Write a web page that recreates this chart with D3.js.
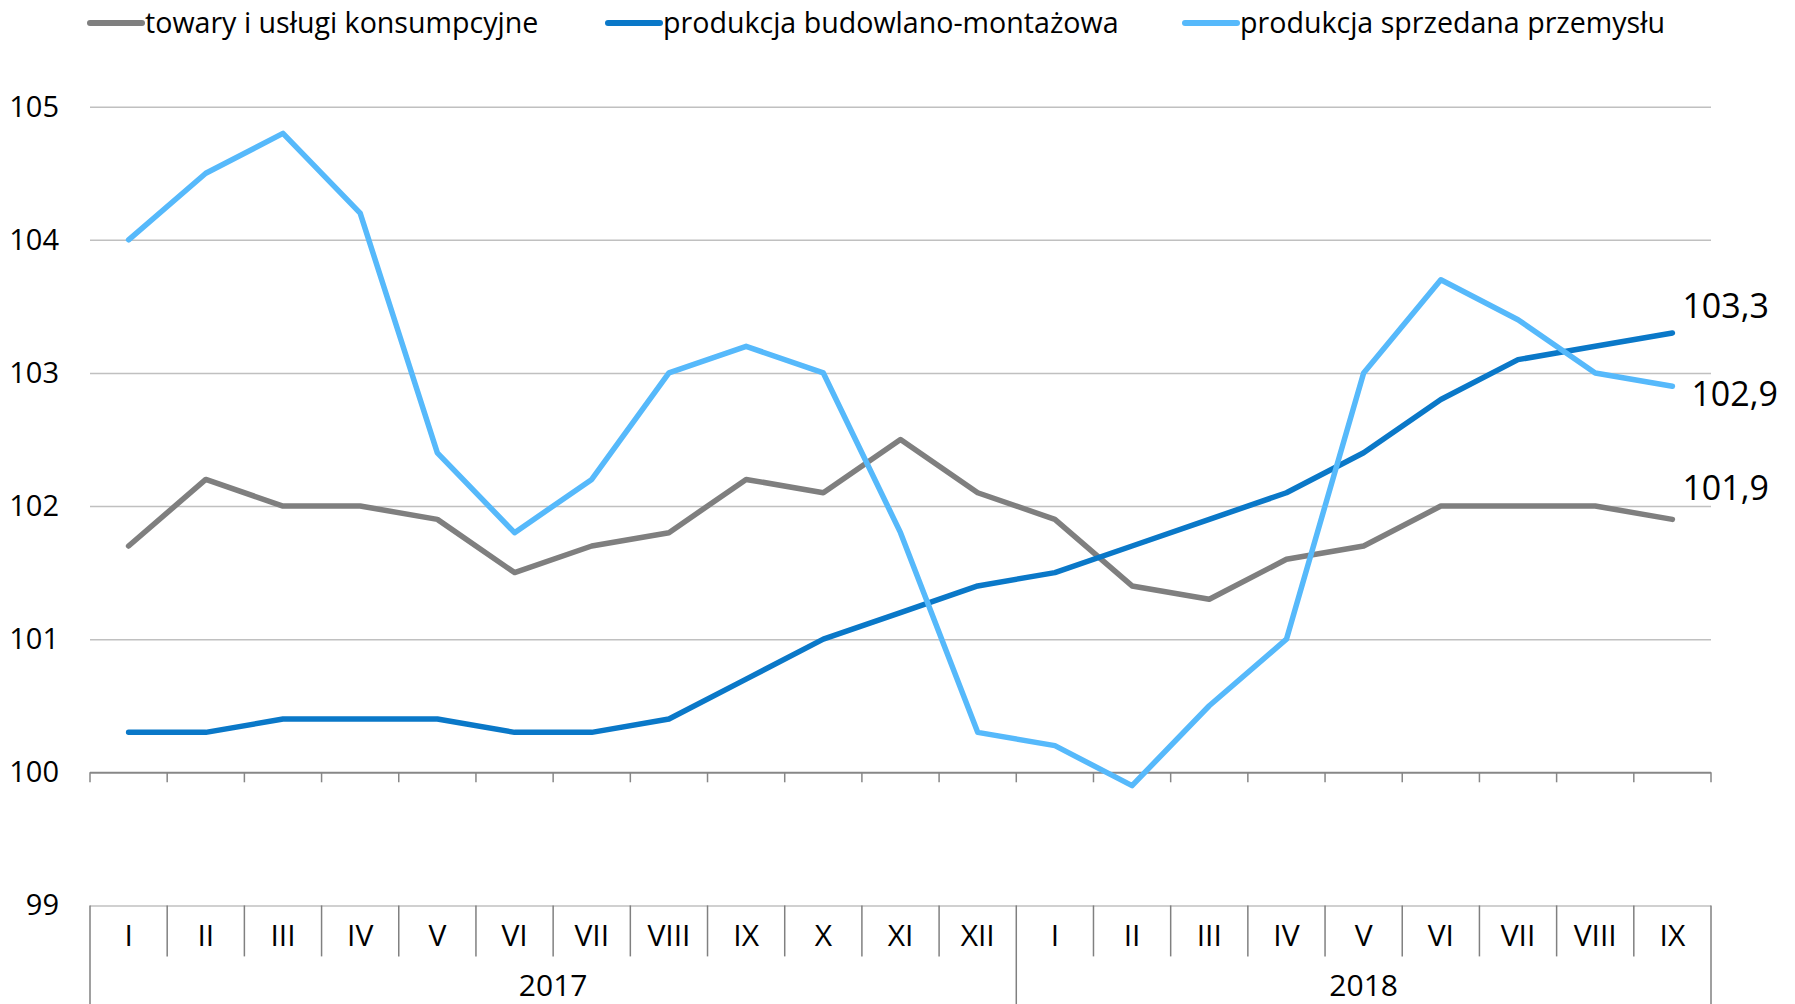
<!DOCTYPE html>
<html>
<head>
<meta charset="utf-8">
<script src="https://cdn.jsdelivr.net/npm/d3@7"></script>
<style>
  body { margin: 0; background: #fff; }
  svg text { font-family: "Open Sans", "Noto Sans", sans-serif; fill: #000; }
</style>
</head>
<body>
<svg id="chart" width="1795" height="1004"></svg>
<script>
// months (two years)
var months = ["I","II","III","IV","V","VI","VII","VIII","IX","X","XI","XII",
              "I","II","III","IV","V","VI","VII","VIII","IX"];
var years = [
  {label: "2017", from: 0, to: 12},
  {label: "2018", from: 12, to: 21}
];
var yTicks = [99, 100, 101, 102, 103, 104, 105];

// series values
var towary     = [101.7,102.2,102.0,102.0,101.9,101.5,101.7,101.8,102.2,102.1,102.5,102.1,
                  101.9,101.4,101.3,101.6,101.7,102.0,102.0,102.0,101.9];
var budowlana  = [100.3,100.3,100.4,100.4,100.4,100.3,100.3,100.4,100.7,101.0,101.2,101.4,
                  101.5,101.7,101.9,102.1,102.4,102.8,103.1,103.2,103.3];
var przemysl   = [104.0,104.5,104.8,104.2,102.4,101.8,102.2,103.0,103.2,103.0,101.8,100.3,
                  100.2,99.9,100.5,101.0,103.0,103.7,103.4,103.0,102.9];

var series = [
  {name: "towary i usługi konsumpcyjne", values: towary, color: "#7f7f7f", lx: 88, lab: [10, -19]},
  {name: "produkcja budowlano-montażowa", values: budowlana, color: "#0a78c8", lx: 606, lab: [10, -15]},
  {name: "produkcja sprzedana przemysłu", values: przemysl, color: "#56b9fb", lx: 1183, lab: [19, 20]}
];

var svg = d3.select("#chart");
var left = 90, right = 1711;

var x = d3.scaleBand()
  .domain(d3.range(months.length))
  .range([left, right]);
var y = d3.scaleLinear()
  .domain([99, 105])
  .range([905.4, 106.7]);

// horizontal gridlines + y labels
var yAxis = svg.append("g")
  .attr("transform", "translate(" + left + ",0)")
  .call(d3.axisLeft(y).tickValues(yTicks).tickFormat(d3.format("d"))
    .tickSize(-(right - left)).tickPadding(31));
yAxis.select(".domain").remove();
yAxis.selectAll(".tick line")
  .attr("stroke", function(d) { return d == 100 ? "#878787" : "#c0c0c0"; })
  .attr("stroke-width", function(d) { return d == 100 ? 2 : 1.5; });
yAxis.selectAll(".tick text")
  .style("font-size", "29px")
  .attr("dy", "0.33em");

// small ticks under the 100 line
var bounds = d3.range(months.length + 1).map(function(i) {
  return i < months.length ? x(i) : x(i - 1) + x.bandwidth();
});
svg.append("g").selectAll("line")
  .data(bounds)
  .join("line")
    .attr("x1", function(d) { return d; })
    .attr("x2", function(d) { return d; })
    .attr("y1", y(100))
    .attr("y2", y(100) + 10)
    .attr("stroke", "#878787")
    .attr("stroke-width", 1.5);

// category axis below 99
var catY = y(99);
svg.append("g").selectAll("line")
  .data(bounds)
  .join("line")
    .attr("x1", function(d) { return d; })
    .attr("x2", function(d) { return d; })
    .attr("y1", catY)
    .attr("y2", function(d, i) {
      var isYear = years.some(function(yr) { return yr.from == i || yr.to == i; });
      return isYear ? 1004 : catY + 51;
    })
    .attr("stroke", "#808080")
    .attr("stroke-width", 1.5);

svg.append("g").selectAll("text")
  .data(months)
  .join("text")
    .attr("x", function(d, i) { return x(i) + x.bandwidth() / 2; })
    .attr("y", catY + 41)
    .attr("text-anchor", "middle")
    .style("font-size", "30px")
    .text(function(d) { return d; });

svg.append("g").selectAll("text")
  .data(years)
  .join("text")
    .attr("x", function(d) { return (bounds[d.from] + bounds[d.to]) / 2; })
    .attr("y", catY + 91)
    .attr("text-anchor", "middle")
    .style("font-size", "30px")
    .text(function(d) { return d.label; });

// series lines
var line = d3.line()
  .x(function(d, i) { return x(i) + x.bandwidth() / 2; })
  .y(function(d) { return y(d); });

svg.append("g").selectAll("path")
  .data(series)
  .join("path")
    .attr("d", function(d) { return line(d.values); })
    .attr("fill", "none")
    .attr("stroke", function(d) { return d.color; })
    .attr("stroke-width", 5.5)
    .attr("stroke-linejoin", "round")
    .attr("stroke-linecap", "round");

// end labels
var last = months.length - 1;
svg.append("g").selectAll("text")
  .data(series)
  .join("text")
    .attr("x", function(d) { return x(last) + x.bandwidth() / 2 + d.lab[0]; })
    .attr("y", function(d) { return y(d.values[last]) + d.lab[1]; })
    .style("font-size", "34px")
    .text(function(d) { return d3.format(".1f")(d.values[last]).replace(".", ","); });

// legend
var legend = svg.append("g").selectAll("g")
  .data(series)
  .join("g")
    .attr("transform", function(d) { return "translate(" + d.lx + ",0)"; });
legend.append("line")
  .attr("x1", 2).attr("x2", 54)
  .attr("y1", 23).attr("y2", 23)
  .attr("stroke", function(d) { return d.color; })
  .attr("stroke-width", 6)
  .attr("stroke-linecap", "round");
legend.append("text")
  .attr("x", 57)
  .attr("y", 33)
  .style("font-size", "28.6px")
  .text(function(d) { return d.name; });
</script>
</body>
</html>
